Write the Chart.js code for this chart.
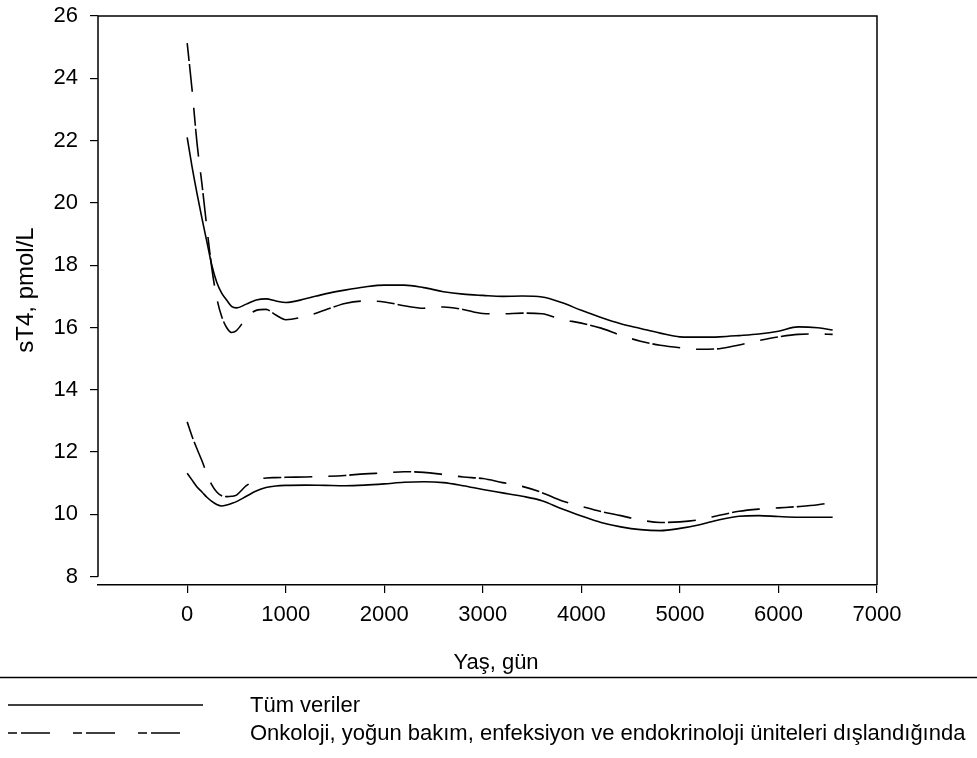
<!DOCTYPE html>
<html>
<head>
<meta charset="utf-8">
<script src="https://cdn.jsdelivr.net/npm/chart.js@4.4.1/dist/chart.umd.min.js"></script>
<style>
  html, body { margin: 0; padding: 0; background: #fff; }
  #wrap { width: 977px; height: 758px; }
</style>
</head>
<body>
<div id="wrap"><canvas id="c" width="977" height="758"></canvas></div>
<script>
// yaş (gün)
const ages = [0, 50, 100, 150, 200, 250, 300, 350, 400, 450, 500, 600, 700, 800, 900, 1000,
  1200, 1400, 1600, 1800, 2000, 2200, 2400, 2600, 2800, 3000, 3200, 3400, 3600, 3800, 4000,
  4200, 4400, 4600, 4800, 5000, 5200, 5400, 5600, 5800, 6000, 6200, 6400, 6550]

// tüm veriler - üst ve alt eğri
const tumUst = [22.10, 21.15, 20.30, 19.50, 18.75, 18.00, 17.45, 17.10, 16.88, 16.68, 16.63, 16.75, 16.88, 16.92, 16.85, 16.80,
  16.92, 17.08, 17.20, 17.30, 17.36, 17.36, 17.28, 17.15, 17.07, 17.03, 17.00, 17.01, 16.98, 16.80, 16.55,
  16.32, 16.12, 15.97, 15.82, 15.70, 15.69, 15.70, 15.74, 15.79, 15.88, 16.02, 15.99, 15.92]
const tumAlt = [11.32, 11.10, 10.88, 10.72, 10.55, 10.42, 10.32, 10.27, 10.30, 10.35, 10.41, 10.58, 10.75, 10.86, 10.91, 10.93,
  10.94, 10.93, 10.92, 10.94, 10.98, 11.03, 11.05, 11.02, 10.92, 10.80, 10.69, 10.58, 10.44, 10.18, 9.95,
  9.74, 9.60, 9.51, 9.48, 9.55, 9.67, 9.83, 9.94, 9.96, 9.93, 9.91, 9.91, 9.91]

// dışlanmış üniteler olmadan - üst ve alt eğri
const disUst = [25.13, 23.62, 21.91, 20.60, 19.20, 17.90, 16.95, 16.35, 16.00, 15.84, 15.90, 16.30, 16.55, 16.58, 16.40, 16.25,
  16.36, 16.56, 16.77, 16.85, 16.82, 16.70, 16.62, 16.66, 16.58, 16.45, 16.44, 16.46, 16.44, 16.26, 16.14,
  15.98, 15.75, 15.56, 15.43, 15.35, 15.30, 15.32, 15.44, 15.58, 15.70, 15.78, 15.79, 15.78]
const disAlt = [12.97, 12.50, 12.10, 11.72, 11.30, 10.95, 10.72, 10.60, 10.57, 10.58, 10.62, 10.92, 11.10, 11.17, 11.18, 11.19,
  11.20, 11.22, 11.25, 11.30, 11.33, 11.37, 11.35, 11.28, 11.20, 11.15, 11.02, 10.90, 10.70, 10.44, 10.26,
  10.09, 9.96, 9.82, 9.74, 9.76, 9.83, 9.97, 10.10, 10.17, 10.21, 10.25, 10.31, 10.39]

const xTicks = [0, 1000, 2000, 3000, 4000, 5000, 6000, 7000]
const yTicks = [8, 10, 12, 14, 16, 18, 20, 22, 24, 26]

const seriesLabels = ['Tüm veriler', 'Onkoloji, yoğun bakım, enfeksiyon ve endokrinoloji üniteleri dışlandığında']
const xTitle = 'Yaş, gün'
const yTitle = 'sT4, pmol/L'

const FONT = "'Liberation Sans', Arial, sans-serif"
const dash = [18, 3, 28, 16]
const legendDash = [9, 4, 29, 23]

const pts = vals => vals.map((v, i) => ({ x: ages[i], y: v }))

const line = (label, vals, dashed) => ({
  label: label,
  data: pts(vals),
  borderColor: '#000',
  borderWidth: 1.6,
  borderDash: dashed ? dash : [],
  pointRadius: 0,
  fill: false,
  cubicInterpolationMode: 'monotone'
})

// çerçeve, eksen başlıkları ve alttaki açıklama
const extras = {
  id: 'extras',
  afterDraw(chart) {
    const ctx = chart.ctx
    const a = chart.chartArea
    const y = chart.scales.y
    ctx.save()
    ctx.strokeStyle = '#000'
    ctx.lineWidth = 1.5
    ctx.beginPath()
    // sol eksen sadece 8-26 arası
    ctx.moveTo(a.left, y.getPixelForValue(26))
    ctx.lineTo(a.left, y.getPixelForValue(8))
    // üst ve sağ kenar
    ctx.moveTo(a.left, a.top)
    ctx.lineTo(a.right, a.top)
    ctx.lineTo(a.right, a.bottom)
    ctx.stroke()

    ctx.fillStyle = '#000'
    ctx.textAlign = 'center'
    ctx.textBaseline = 'middle'
    ctx.font = '22px ' + FONT
    ctx.fillText(xTitle, 496, 663)
    ctx.save()
    ctx.translate(26, 290)
    ctx.rotate(-Math.PI / 2)
    ctx.font = '24px ' + FONT
    ctx.fillText(yTitle, 0, 0)
    ctx.restore()

    // açıklama
    ctx.beginPath()
    ctx.moveTo(0, 677.5)
    ctx.lineTo(977, 677.5)
    ctx.stroke()
    const rows = [705, 733]
    seriesLabels.forEach((lab, i) => {
      ctx.setLineDash(i ? legendDash : [])
      ctx.beginPath()
      ctx.moveTo(8, rows[i])
      ctx.lineTo(i ? 188 : 203, rows[i])
      ctx.stroke()
      ctx.setLineDash([])
      ctx.textAlign = 'left'
      ctx.font = '22px ' + FONT
      ctx.fillText(lab, 250, rows[i] + 1)
    })
    ctx.restore()
  }
}

const tickFont = { family: FONT, size: 22 }

new Chart(document.getElementById('c'), {
  type: 'line',
  data: {
    datasets: [
      line(seriesLabels[0], tumUst, false),
      line(seriesLabels[0], tumAlt, false),
      line(seriesLabels[1], disUst, true),
      line(seriesLabels[1], disAlt, true)
    ]
  },
  options: {
    responsive: false,
    devicePixelRatio: 1,
    animation: false,
    layout: { padding: { top: 16, right: 100, bottom: 83, left: 0 } },
    plugins: { legend: { display: false }, tooltip: { enabled: false } },
    scales: {
      x: {
        type: 'linear',
        min: -905,
        max: 7000,
        afterBuildTicks: s => { s.ticks = xTicks.map(v => ({ value: v })) },
        afterFit: s => { s.height = 90; s.paddingLeft = 0; s.paddingRight = 0 },
        grid: { drawOnChartArea: false, drawTicks: true, tickLength: 8, color: '#000', lineWidth: 1.2 },
        border: { display: true, color: '#000', width: 1.5 },
        ticks: { color: '#000', font: tickFont, padding: 9, maxRotation: 0, autoSkip: false, callback: v => String(v) }
      },
      y: {
        min: 7.733,
        max: 26,
        afterBuildTicks: s => { s.ticks = yTicks.map(v => ({ value: v })) },
        afterFit: s => { s.width = 98; s.paddingTop = 0; s.paddingBottom = 0 },
        grid: { drawOnChartArea: false, drawTicks: true, tickLength: 8, color: '#000', lineWidth: 1.2 },
        border: { display: false },
        ticks: { color: '#000', font: tickFont, padding: 12, autoSkip: false, callback: v => String(v) }
      }
    }
  },
  plugins: [extras]
})
</script>
</body>
</html>
